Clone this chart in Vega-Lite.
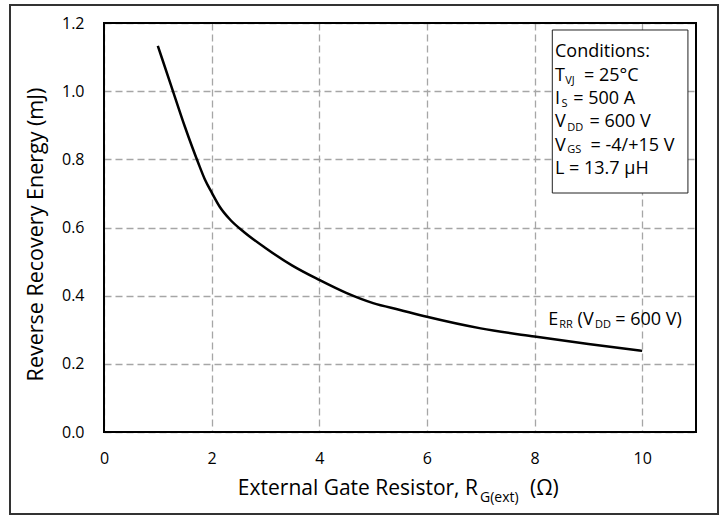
{
  "$schema": "https://vega.github.io/schema/vega-lite/v6.json",
  "width": 592,
  "height": 409,
  "autosize": {"type": "none"},
  "padding": {"left": 104, "top": 23, "right": 31, "bottom": 84},
  "background": "white",
  "config": {
    "font": "Open Sans",
    "view": {"stroke": null}
  },
  "encoding": {
    "x": {
      "field": "x", "type": "quantitative",
      "scale": {"domain": [0, 11], "nice": false, "zero": false},
      "axis": {
        "values": [0, 2, 4, 6, 8, 10], "title": null, "grid": true,
        "gridDash": [7, 4], "gridColor": "#a6a6a6", "gridWidth": 1.3,
        "ticks": false, "domain": false, "labelFontSize": 16, "labelColor": "black",
        "labelPadding": 18, "labelFlush": false
      }
    },
    "y": {
      "field": "y", "type": "quantitative",
      "scale": {"domain": [0, 1.2], "nice": false, "zero": false},
      "axis": {
        "values": [0, 0.2, 0.4, 0.6, 0.8, 1.0, 1.2], "format": ".1f",
        "title": "Reverse Recovery Energy (mJ)", "titleFontSize": 21.5,
        "titleFontWeight": "normal", "titleColor": "black", "titlePadding": 14,
        "titleY": 211,
        "grid": true, "gridDash": [7, 4], "gridColor": "#a6a6a6", "gridWidth": 1.3,
        "ticks": false, "domain": false, "labelFontSize": 16, "labelColor": "black",
        "labelPadding": 20, "labelFlush": false
      }
    }
  },
  "layer": [
    {
      "data": {"values": [{"x": -1.7466, "x2": 11.409, "y": 1.2528, "y2": -0.2406}]},
      "mark": {"type": "rect", "fillOpacity": 0, "stroke": "#333333", "strokeWidth": 2},
      "encoding": {"x2": {"field": "x2"}, "y2": {"field": "y2"}}
    },
    {
      "data": {"values": [
        {"x": 1, "y": 1.133}, {"x": 1.25, "y": 1.015}, {"x": 1.5, "y": 0.897},
        {"x": 1.75, "y": 0.79}, {"x": 1.875, "y": 0.741}, {"x": 2, "y": 0.703},
        {"x": 2.15, "y": 0.661}, {"x": 2.35, "y": 0.622}, {"x": 2.6, "y": 0.587},
        {"x": 3, "y": 0.54}, {"x": 3.5, "y": 0.488}, {"x": 4, "y": 0.446},
        {"x": 4.5, "y": 0.408}, {"x": 5, "y": 0.378}, {"x": 5.5, "y": 0.358},
        {"x": 6, "y": 0.338}, {"x": 7, "y": 0.304}, {"x": 8, "y": 0.28},
        {"x": 9, "y": 0.258}, {"x": 10, "y": 0.238}
      ]},
      "mark": {"type": "line", "color": "black", "strokeWidth": 2.5, "interpolate": "monotone"}
    },
    {
      "data": {"values": [{"x": 0, "x2": 11, "y": 1.2, "y2": 0}]},
      "mark": {"type": "rect", "fillOpacity": 0, "stroke": "black", "strokeWidth": 2},
      "encoding": {"x2": {"field": "x2"}, "y2": {"field": "y2"}}
    },
    {
      "data": {"values": [{"x": 8.33, "x2": 10.85, "y": 1.1795, "y2": 0.7012}]},
      "mark": {"type": "rect", "fill": "white", "stroke": "#222222", "strokeWidth": 1},
      "encoding": {"x2": {"field": "x2"}, "y2": {"field": "y2"}}
    },
    {
      "data": {"values": [
        {"x": 8.38, "y": 1.0994, "t": "Conditions:"},
        {"x": 8.38, "y": 1.0307, "t": "T"},
        {"x": 8.92, "y": 1.0307, "t": "= 25°C"},
        {"x": 8.38, "y": 0.9623, "t": "I"},
        {"x": 8.72, "y": 0.9623, "t": "= 500 A"},
        {"x": 8.38, "y": 0.894, "t": "V"},
        {"x": 9.02, "y": 0.894, "t": "= 600 V"},
        {"x": 8.38, "y": 0.8253, "t": "V"},
        {"x": 9.04, "y": 0.8253, "t": "= -4/+15 V"},
        {"x": 8.38, "y": 0.757, "t": "L = 13.7 µH"},
        {"x": 8.256, "y": 0.3139, "t": "E"},
        {"x": 8.8, "y": 0.3139, "t": "(V"},
        {"x": 9.5, "y": 0.3139, "t": "= 600 V)"}
      ]},
      "mark": {"type": "text", "align": "left", "baseline": "alphabetic", "fontSize": 18, "fill": "black"},
      "encoding": {"text": {"field": "t"}}
    },
    {
      "data": {"values": [
        {"x": 8.57, "y": 1.021, "t": "VJ"},
        {"x": 8.5, "y": 0.9527, "t": "S"},
        {"x": 8.61, "y": 0.884, "t": "DD"},
        {"x": 8.61, "y": 0.8195, "t": "GS"},
        {"x": 8.46, "y": 0.3043, "t": "RR"},
        {"x": 9.125, "y": 0.3043, "t": "DD"}
      ]},
      "mark": {"type": "text", "align": "left", "baseline": "alphabetic", "fontSize": 11, "fill": "black"},
      "encoding": {"text": {"field": "t"}}
    },
    {
      "data": {"values": [{"x": 6.949, "y": -0.1848, "t": "External Gate Resistor, R"}]},
      "mark": {"type": "text", "align": "right", "baseline": "alphabetic", "fontSize": 21, "fill": "black"},
      "encoding": {"text": {"field": "t"}}
    },
    {
      "data": {"values": [{"x": 6.986, "y": -0.2054, "t": "G(ext)"}]},
      "mark": {"type": "text", "align": "left", "baseline": "alphabetic", "fontSize": 14, "fill": "black"},
      "encoding": {"text": {"field": "t"}}
    },
    {
      "data": {"values": [{"x": 7.916, "y": -0.1848, "t": "(Ω)"}]},
      "mark": {"type": "text", "align": "left", "baseline": "alphabetic", "fontSize": 21, "fill": "black"},
      "encoding": {"text": {"field": "t"}}
    }
  ]
}
